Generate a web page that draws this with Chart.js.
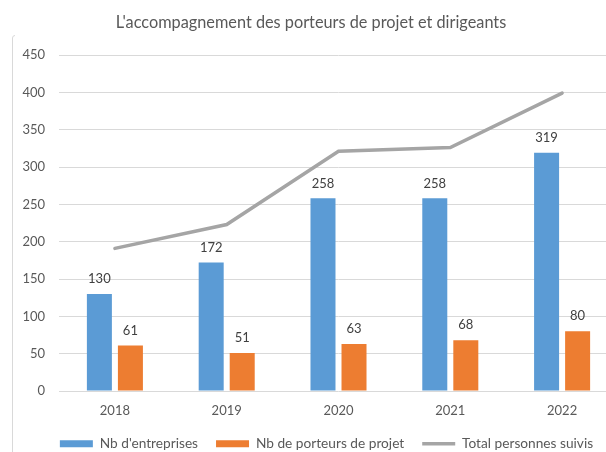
<!DOCTYPE html>
<html>
<head>
<meta charset="utf-8">
<script src="https://cdn.jsdelivr.net/npm/chart.js@4.4.0/dist/chart.umd.min.js"></script>
<style>
  html, body { margin: 0; padding: 0; background: #fff; overflow: hidden; }
  #wrap { position: relative; width: 641px; height: 452px; }
</style>
</head>
<body>
<div id="wrap"><canvas id="chart" width="641" height="452"></canvas></div>
<script>
// data
const chartTitle = "L'accompagnement des porteurs de projet et dirigeants";
const years = ["2018", "2019", "2020", "2021", "2022"];
const entreprises = [130, 172, 258, 258, 319];
const porteurs = [61, 51, 63, 68, 80];
const totalSuivis = [191, 223, 321, 326, 399];
const seriesNames = ["Nb d'entreprises", "Nb de porteurs de projet", "Total personnes suivis"];
const yMin = 0;
const yMax = 450;
const yStep = 50;

const FONT = "Lato, 'Open Sans', sans-serif";
const textGrey = "#595959";

// value labels above the bars
const barLabels = {
  id: "barLabels",
  afterDatasetsDraw(chart) {
    const ctx = chart.ctx;
    ctx.save();
    ctx.font = "13px " + FONT;
    ctx.fillStyle = "#404040";
    ctx.textAlign = "center";
    ctx.textBaseline = "middle";
    [0, 1].forEach((di) => {
      const meta = chart.getDatasetMeta(di);
      meta.data.forEach((bar, i) => {
        ctx.fillText(chart.data.datasets[di].data[i], bar.x, bar.y - 15);
      });
    });
    ctx.restore();
  },
};

// title and the chart frame line
const frame = {
  id: "frame",
  afterDraw(chart) {
    const ctx = chart.ctx;
    ctx.save();
    ctx.strokeStyle = "#D9D9D9";
    ctx.lineWidth = 1;
    ctx.beginPath();
    ctx.moveTo(12.5, 452);
    ctx.lineTo(12.5, 38);
    ctx.quadraticCurveTo(12.5, 35.5, 15, 35.5);
    ctx.stroke();
    ctx.font = "16.3px " + FONT;
    ctx.fillStyle = textGrey;
    ctx.textAlign = "center";
    ctx.textBaseline = "alphabetic";
    ctx.fillText(chartTitle, 311, 28);
    ctx.restore();
  },
};

new Chart(document.getElementById("chart"), {
  type: "bar",
  data: {
    labels: years,
    datasets: [
      {
        label: seriesNames[0],
        data: entreprises,
        backgroundColor: "#5B9BD5",
        categoryPercentage: 0.555,
        barPercentage: 0.806,
      },
      {
        label: seriesNames[1],
        data: porteurs,
        backgroundColor: "#ED7D31",
        categoryPercentage: 0.555,
        barPercentage: 0.806,
      },
      {
        type: "line",
        label: seriesNames[2],
        data: totalSuivis,
        borderColor: "#A5A5A5",
        backgroundColor: "#A5A5A5",
        borderWidth: 3.5,
        borderCapStyle: "round",
        pointRadius: 0,
        tension: 0,
      },
    ],
  },
  options: {
    responsive: false,
    animation: false,
    layout: { padding: { left: 12, right: 0, top: 55, bottom: 0 } },
    scales: {
      x: {
        grid: { display: false, drawTicks: false },
        border: { display: false },
        ticks: { color: textGrey, font: { family: FONT, size: 13 }, padding: 12 },
        afterFit: (s) => { s.height = 28; },
      },
      y: {
        min: yMin,
        max: yMax,
        ticks: { stepSize: yStep, color: textGrey, font: { family: FONT, size: 13 }, padding: 14 },
        grid: { color: "#D9D9D9", drawTicks: false },
        border: { display: false },
        afterFit: (s) => { s.width = 47; },
      },
      yr: {
        position: "right",
        grid: { display: false },
        border: { display: false },
        ticks: { display: false },
        afterFit: (s) => { s.width = 23; },
      },
    },
    plugins: {
      title: { display: false },
      tooltip: { enabled: false },
      legend: {
        position: "bottom",
        maxHeight: 33,
        labels: {
          usePointStyle: true,
          pointStyleWidth: 33,
          boxHeight: 7,
          padding: 18,
          color: textGrey,
          font: { family: FONT, size: 13.7 },
          generateLabels: (chart) => {
            const items = Chart.defaults.plugins.legend.labels.generateLabels(chart);
            items.forEach((it, i) => {
              it.pointStyle = i === 2 ? "line" : "rect";
              if (i === 2) it.lineWidth = 3.5;
            });
            return items;
          },
        },
      },
    },
  },
  plugins: [barLabels, frame],
});
</script>
</body>
</html>
